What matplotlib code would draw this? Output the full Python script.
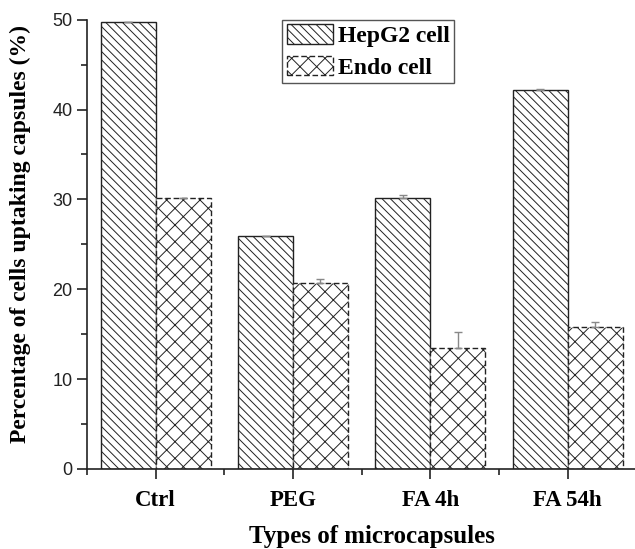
import numpy as np
import matplotlib
matplotlib.use("Agg")
import matplotlib.pyplot as plt
from matplotlib.ticker import MultipleLocator

categories = ["Ctrl", "PEG", "FA 4h", "FA 54h"]
hepg2 = [49.7, 25.9, 30.2, 42.2]
hepg2_err = [0.0, 0.0, 0.3, 0.1]
endo = [30.1, 20.7, 13.5, 15.8]
endo_err = [0.0, 0.4, 1.7, 0.6]

plt.rcParams["hatch.linewidth"] = 0.7
plt.rcParams["hatch.color"] = "#222222"

fig = plt.figure(figsize=(6.35, 5.49), dpi=100)
ax = fig.add_axes([0.137, 0.146, 0.863, 0.818])

x = np.arange(1, len(categories) + 1)
w = 0.4
ax.bar(x - w / 2, hepg2, w, color="white", edgecolor="#222222", linewidth=1.0,
       hatch="\\\\\\\\", label="HepG2 cell")
ax.bar(x + w / 2, endo, w, color="white", edgecolor="#222222", linewidth=1.0,
       linestyle=(0, (4, 2)), hatch="xx", label="Endo cell")
ax.errorbar(x - w / 2, hepg2, yerr=[np.zeros(4), hepg2_err], fmt="none",
            ecolor="#888888", elinewidth=1.0, capsize=3)
ax.errorbar(x + w / 2, endo, yerr=[np.zeros(4), endo_err], fmt="none",
            ecolor="#888888", elinewidth=1.0, capsize=3)

ax.set_xlim(0.5, 4.49)
ax.set_ylim(0, 50)
for s in ["top", "right"]:
    ax.spines[s].set_visible(False)
for s in ["left", "bottom"]:
    ax.spines[s].set_linewidth(1.2)
    ax.spines[s].set_color("#222222")

ax.set_xticks(x)
ax.set_xticklabels(categories, fontfamily="Liberation Serif", fontweight="bold", fontsize=16.5)
ax.xaxis.set_minor_locator(MultipleLocator(1, offset=0.5))
ax.yaxis.set_major_locator(MultipleLocator(10))
ax.yaxis.set_minor_locator(MultipleLocator(5))
ax.tick_params(axis="both", which="major", direction="out", length=7, width=1.2,
               color="#222222")
ax.tick_params(axis="both", which="minor", direction="out", length=4, width=1.2,
               color="#222222")
ax.tick_params(axis="x", which="major", pad=8)
for lab in ax.get_yticklabels():
    lab.set_fontfamily("Liberation Sans")
    lab.set_fontsize(13)
    lab.set_color("#222222")

ax.set_ylabel("Percentage of cells uptaking capsules (%)", fontfamily="Liberation Serif",
              fontweight="bold", fontsize=17)
ax.yaxis.set_label_coords(-0.102, 0.523)
ax.set_xlabel("Types of microcapsules", fontfamily="Liberation Serif",
              fontweight="bold", fontsize=18)
ax.xaxis.set_label_coords(0.52, -0.125)

leg = ax.legend(loc="upper left", bbox_to_anchor=(0.356, 1.0), borderaxespad=0,
                fancybox=False, edgecolor="#555555", framealpha=1,
                prop={"family": "Liberation Serif", "weight": "bold", "size": 17},
                handlelength=1.95, handleheight=0.9, handletextpad=0.2,
                borderpad=0.2, labelspacing=0.35)
leg.get_frame().set_linewidth(1.0)

fig.savefig("out.png", dpi=100)
